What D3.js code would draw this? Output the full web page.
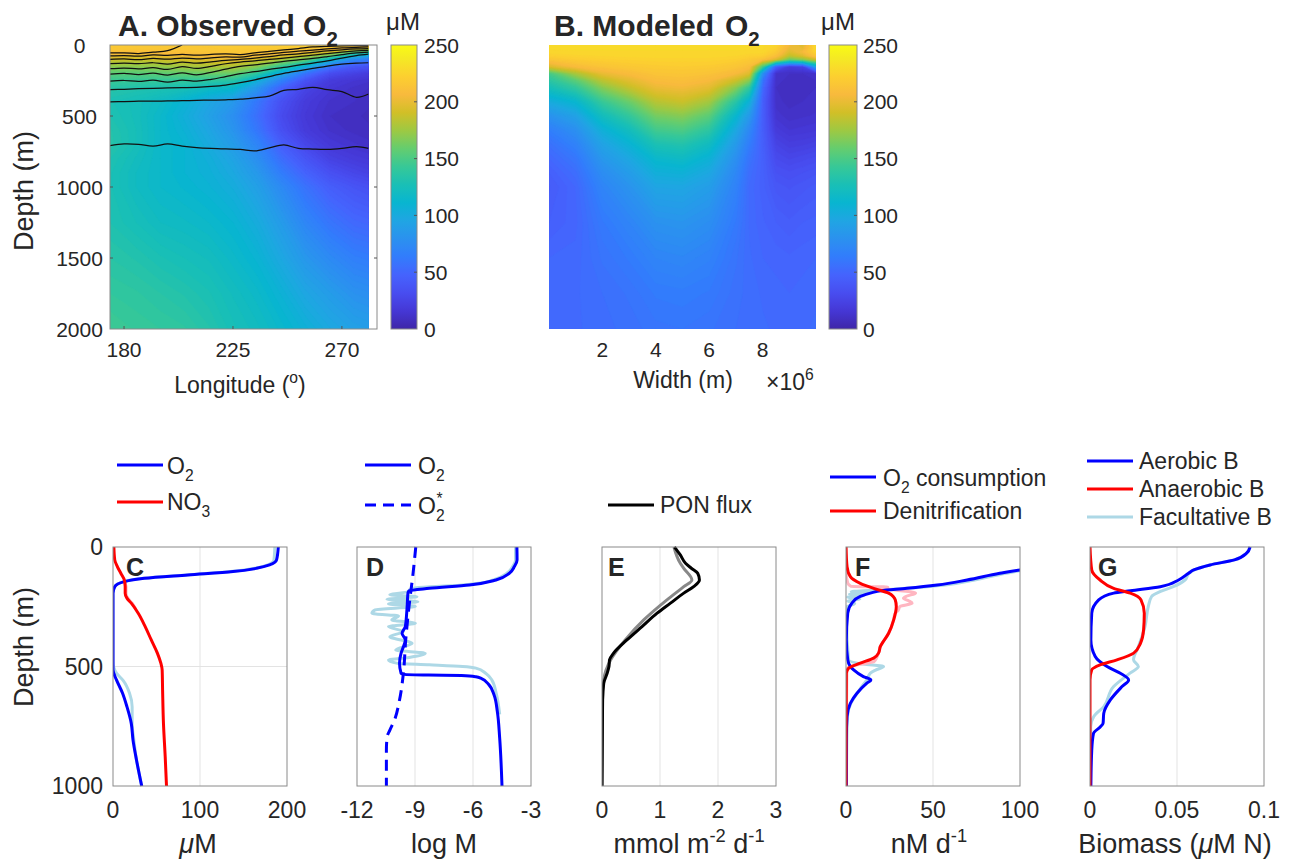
<!DOCTYPE html>
<html><head><meta charset="utf-8">
<script src="https://cdn.jsdelivr.net/npm/d3@7"></script>
<style>
body{margin:0;background:#fff}
svg{display:block}
text{font-family:"Liberation Sans",Arial,Helvetica,sans-serif;fill:#262626}
</style>
</head><body>
<svg id="fig" width="1291" height="863"></svg>
<script>
// ---------------- DATA ----------------
// Panel A: observed O2 (µM). Each row = one longitude, values at obsDepth
const obsLon = [174.2, 185, 195, 205, 215, 225, 235, 245, 255, 265, 275, 281];
const obsDepth = [0, 25, 50, 75, 100, 150, 200, 250, 300, 400, 500, 600, 700, 800, 900, 1000, 1250, 1500, 1750, 2000];
const obsO2 = [
  [218,217,210,200,190,170,155,143,135,128,130,133,134,130,128,128,130,135,140,145],
  [218,216,208,198,188,170,154,142,132,124,124,125,125,122,120,120,125,132,138,142],
  [218,216,210,200,190,172,156,141,130,118,115,115,115,115,115,115,120,128,135,140],
  [218,216,212,203,193,176,158,140,127,108,104,107,110,110,110,112,118,125,132,138],
  [218,217,214,207,197,179,160,138,120,96,92,96,100,104,106,108,115,122,128,133],
  [219,218,215,210,200,180,160,135,115,85,78,82,88,94,98,102,110,116,122,126],
  [220,218,214,205,192,168,138,105,84,60,55,60,70,78,85,91,101,109,116,121],
  [221,218,210,196,178,140,98,68,48,34,30,34,44,54,64,74,87,97,107,114],
  [222,216,202,182,160,105,58,36,26,19,17,19,27,37,47,57,71,84,96,106],
  [222,212,190,155,115,60,32,20,16,12,10,12,17,24,34,44,59,74,88,98],
  [220,196,150,108,75,40,24,15,12,10,8,9,13,19,27,37,51,66,80,92],
  [215,186,135,95,65,36,20,13,10,8,7,8,11,17,24,34,49,64,78,90]
];
// Panel B: modeled O2 (µM). Each row = one width position (×10^6 m)
const modWidth = [0, 1, 2, 3, 4, 5, 6, 7, 7.5, 8, 8.5, 9, 9.5, 10];
const modDepth = obsDepth;
const modO2 = [
  [228,228,226,222,215,195,148,136,125,100,80,65,56,50,45,42,45,50,52,52],
  [228,228,227,224,220,208,178,155,140,112,92,78,68,60,54,50,49,51,52,52],
  [228,228,227,225,222,214,200,183,168,142,122,105,93,84,76,70,62,58,55,54],
  [228,228,227,226,223,217,208,197,186,160,140,122,108,97,88,81,70,63,58,56],
  [228,228,227,226,224,219,214,208,201,182,163,146,128,114,104,95,80,70,63,59],
  [228,228,227,226,224,220,215,210,204,188,168,150,132,118,106,96,82,72,64,60],
  [228,228,227,226,224,219,213,206,198,176,155,137,120,107,97,89,77,68,62,58],
  [228,228,227,225,222,215,206,188,168,135,112,97,86,78,72,68,62,58,56,55],
  [228,228,226,223,218,210,196,168,140,105,85,72,64,58,54,52,52,53,54,54],
  [228,228,226,222,212,150,80,60,52,45,44,44,45,46,46,46,48,50,52,53],
  [225,222,218,210,195,45,12,11,10,11,14,19,25,30,35,39,45,49,51,52],
  [205,200,195,185,160,20,10,9,9,9,11,15,21,27,33,37,43,48,50,52],
  [195,200,205,195,170,25,10,9,9,10,12,16,22,29,35,39,45,49,51,52],
  [228,228,225,215,190,95,12,10,10,11,13,17,24,31,37,41,46,50,52,53]
];
// Panel A: black contour lines (depth in m at contourLon; null = line ends)
const contourLon = [174.2, 180, 186, 192, 198, 204, 210, 216, 222, 228, 234, 240, 246, 252, 258, 264, 270, 276, 281];
const contour1 = [56,55,60,50,40,0,null,null,null,null,null,null,null,null,null,null,null,null,null];
const contour2 = [77,75,78,70,73,66,72,66,62,68,55,45,35,25,14,9,6,5,5];
const contour3 = [101,98,103,95,100,92,98,90,84,85,72,62,52,44,36,27,20,16,14];
const contour4 = [132,128,132,125,135,120,128,118,108,101,92,82,70,62,52,42,34,28,25];
const contour5 = [167,162,168,160,172,152,165,150,132,120,112,102,92,82,72,60,50,42,38];
const contour6 = [206,200,208,198,212,196,210,192,170,150,140,128,115,105,95,82,68,56,50];
const contour7 = [254,250,256,248,262,248,255,242,222,202,188,172,158,142,128,112,92,75,65];
const contour8 = [315,312,308,305,302,300,298,292,282,265,245,222,200,182,165,148,135,128,125];
const contour9 = [401,398,396,395,394,392,390,388,386,382,372,360,320,312,298,315,328,368,345];
const contour10 = [709,697,700,712,697,712,722,728,732,735,746,725,704,728,733,735,728,716,728];

// Profiles: [depth (m), value]
const cO2 = [[0,190],[54,188],[75,180],[89,165],[103,138],[117,86],[131,36],[145,13],[166,2],[193,0],[514,0],[556,4],[612,11],[668,16],[738,21],[808,23],[891,27],[1000,33]];
const cO2faint = [[0,186],[54,185],[75,178],[89,163],[103,135],[117,84],[131,35],[145,12],[166,2],[193,0],[480,0],[505,1],[528,4],[560,12],[612,19],[668,22],[738,22],[808,24],[891,27],[1000,33]];
const cNO3 = [[0,1],[54,2],[82,5],[110,9],[138,13],[166,14],[193,14],[214,16],[235,21],[277,29],[333,37],[389,44],[444,51],[486,55],[514,56.5],[598,57],[738,58],[877,60],[1000,61.5]];
const cNO3faint = [[140,12],[166,15],[193,15],[214,17],[235,22],[260,26]];

const dO2 = [[0,-3.73],[54,-3.72],[82,-3.86],[110,-4.12],[138,-4.81],[159,-6.19],[173,-8.26],[183,-9.3],[190,-9.36],[208,-9.38],[240,-9.4],[277,-9.43],[333,-9.5],[361,-9.67],[389,-9.5],[417,-9.6],[444,-9.72],[486,-9.8],[528,-9.72],[533,-9.55],[536,-8.3],[538,-6.6],[543,-5.85],[549,-5.6],[577,-5.17],[619,-4.91],[689,-4.74],[800,-4.62],[1000,-4.5]];
const dO2faint = [[0,-3.8],[54,-3.8],[82,-3.95],[110,-4.25],[138,-4.95],[152,-5.7],[160,-6.7],[166,-8.2],[172,-9.1],[180,-9.3],[187,-9.35],[200,-10.3],[208,-8.9],[219,-10.45],[229,-8.85],[238,-10.37],[249,-8.98],[263,-11.06],[277,-11.23],[289,-9.85],[305,-10.2],[319,-8.98],[333,-10.37],[354,-9.6],[375,-10.3],[403,-9.15],[431,-10.0],[445,-8.47],[462,-9.3],[473,-10.37],[487,-9.9],[493,-8.26],[500,-6.54],[507,-5.85],[529,-5.33],[556,-5.03],[612,-4.8],[668,-4.67],[700,-4.62]];
const dO2star = [[0,-8.96],[110,-9.1],[249,-9.31],[389,-9.48],[528,-9.6],[640,-9.8],[724,-10.06],[766,-10.3],[794,-10.44],[850,-10.48],[1000,-10.48]];

const ePON = [[0,1.25],[33,1.35],[68,1.44],[89,1.54],[110,1.65],[138,1.68],[166,1.58],[193,1.41],[235,1.18],[277,0.95],[333,0.69],[389,0.43],[444,0.2],[472,0.13],[500,0.12],[528,0.09],[570,0.03],[640,0.01],[1000,0]];
const ePONfaint = [[0,1.24],[68,1.35],[89,1.41],[138,1.55],[166,1.41],[221,1.12],[305,0.72],[389,0.4],[472,0.15],[556,0.03],[640,0.01],[1000,0]];

const fO2cons = [[0,260],[40,190],[70,140],[96,100],[110,88.4],[138,69.6],[159,52.4],[173,35],[183,20],[191,15],[207,8.2],[235,3.4],[277,1],[389,0.2],[472,1],[500,2.5],[514,4.4],[542,10],[556,14.3],[570,12],[612,6.3],[654,2.5],[710,0.6],[800,0.2],[1000,0.2]];
const fO2consFaint = [[0,260],[40,190],[70,142],[96,103],[110,92],[138,74],[159,57],[170,40],[178,25],[183,10],[187,3],[193,13],[198,2],[204,10],[210,1],[218,8],[226,1],[236,5],[250,0.5],[300,0.3],[472,1.5],[490,10],[500,21.6],[515,17],[528,14],[556,12],[584,9],[612,6.5],[654,2.8],[710,0.8],[1000,0.2]];
const fDenit = [[0,0],[82,0.6],[124,2.5],[152,8.2],[173,15.9],[193,24.5],[221,28.3],[249,28.9],[305,27.4],[361,24.5],[417,19.7],[444,18.7],[465,15.9],[486,8.2],[507,1.5],[528,0.2],[1000,0]];
const fDenitFaint = [[0,0],[100,0],[150,1],[160,2],[165,3],[166,10],[167,24],[172,20],[180,28],[193,40],[205,35],[214,33],[225,36],[235,38],[249,31],[265,30],[280,28],[305,27.4],[361,24.5],[417,19.7],[444,18.7],[465,17.5],[480,16],[486,12],[495,5],[510,0.5],[1000,0]];

const gAerobic = [[0,0.092],[26,0.090],[54,0.083],[75,0.069],[96,0.0596],[110,0.0566],[138,0.0509],[166,0.0404],[183,0.0232],[193,0.0136],[221,0.005],[277,0.001],[389,0.0005],[458,0.003],[500,0.0098],[528,0.0174],[556,0.0222],[584,0.0184],[640,0.0117],[696,0.0079],[738,0.0075],[752,0.006],[780,0.002],[850,0.001],[1000,0.0005]];
const gAnaerobic = [[0,0],[96,0.001],[138,0.0058],[173,0.0136],[193,0.0232],[221,0.0293],[277,0.0312],[347,0.0308],[403,0.029],[444,0.0251],[472,0.0155],[493,0.0058],[514,0.001],[556,0],[1000,0]];
const gFacultative = [[0,0.092],[26,0.090],[54,0.083],[75,0.069],[96,0.06],[110,0.057],[138,0.0546],[166,0.0479],[187,0.0402],[207,0.0354],[249,0.0335],[333,0.0316],[417,0.0278],[472,0.025],[500,0.0278],[528,0.023],[584,0.0136],[668,0.0079],[710,0.0021],[752,0.0004],[1000,0.0002]];

// Tick labels
const lonTicks = [180, 225, 270];
const depthTicksTop = [0, 500, 1000, 1500, 2000];
const widthTicks = [2, 4, 6, 8];
const cbarTicks = [0, 50, 100, 150, 200, 250];
const depthTicksBottom = [0, 500, 1000];
const cTicks = [0, 100, 200];
const dTicks = [-12, -9, -6, -3];
const eTicks = [0, 1, 2, 3];
const fTicks = [0, 50, 100];
const gTicks = [0, 0.05, 0.1];

// Parula colormap anchors (MATLAB)
const parulaAnchors = [
  [0.2422,0.1504,0.6603],[0.2706,0.2147,0.8364],[0.2813,0.3006,0.9414],[0.2699,0.3892,0.9906],
  [0.1963,0.4847,0.9892],[0.1687,0.5703,0.9359],[0.1248,0.6459,0.8883],[0.0297,0.7082,0.8163],
  [0.0964,0.7500,0.7120],[0.2161,0.7843,0.5923],[0.3909,0.8029,0.4354],[0.6174,0.7876,0.2612],
  [0.8203,0.7498,0.1535],[0.9728,0.7298,0.2394],[0.9892,0.8136,0.1885],[0.9597,0.9135,0.1423],
  [0.9769,0.9839,0.0805]
];
const parulaIdx = [0,4,8,12,16,20,24,28,32,36,40,44,48,52,56,60,63];

// ---------------- DRAWING ----------------
const svg = d3.select('#fig');
const defs = svg.append('defs');
const rgb = c => d3.rgb(c[0]*255, c[1]*255, c[2]*255).toString();
const parula = d3.scaleLinear()
  .domain(parulaIdx.map(i => i / 63 * 250))
  .range(parulaAnchors.map(rgb))
  .interpolate(d3.interpolateRgb).clamp(true);

const BOX = '#8a8a8a';
const GRID = '#e3e3e3';

function rich(parent, x, y, parts, size, anchor, weight) {
  const t = parent.append('text').attr('x', x).attr('y', y)
    .attr('font-size', size).attr('text-anchor', anchor || 'start');
  if (weight) t.attr('font-weight', weight);
  let shift = 0;
  parts.forEach(p => {
    const s = p.sub ? size * 0.32 : p.sup ? -size * 0.42 : 0;
    const ts = t.append('tspan').text(p.t).attr('dy', s - shift);
    if (p.dx) ts.attr('dx', p.dx);
    if (p.sub || p.sup) ts.attr('font-size', size * 0.68);
    if (p.it) ts.attr('font-style', 'italic');
    shift = s;
  });
  return t;
}

let clipId = 0;
function clipRect(x, y, w, h) {
  const id = 'clip' + (clipId++);
  defs.append('clipPath').attr('id', id).append('rect')
    .attr('x', x).attr('y', y).attr('width', w).attr('height', h);
  return 'url(#' + id + ')';
}

function drawField(g, xsNodes, ysNodes, grid, xS, yS) {
  const n = xsNodes.length, m = ysNodes.length;
  const vals = new Array(n * m);
  for (let i = 0; i < n; i++) for (let j = 0; j < m; j++) vals[i + j * n] = grid[i][j];
  const step = 2.5;
  const contours = d3.contours().size([n, m]).thresholds(d3.range(-5, 260, step))(vals);
  const ix = d3.scaleLinear().domain(xsNodes.map((_, i) => i + 0.5)).range(xsNodes).clamp(true);
  const iy = d3.scaleLinear().domain(ysNodes.map((_, j) => j + 0.5)).range(ysNodes).clamp(true);
  const proj = d3.geoTransform({ point(x, y) { this.stream.point(xS(ix(x)), yS(iy(y))); } });
  const path = d3.geoPath(proj);
  g.selectAll('path.band').data(contours).join('path').attr('class', 'band')
    .attr('d', path)
    .attr('fill', d => parula(d.value + step / 2))
    .attr('stroke', d => parula(d.value + step / 2))
    .attr('stroke-width', 0.6);
}

function colorbar(x0, x1, y0, y1, labelX) {
  const gid = 'grad' + (clipId++);
  const grad = defs.append('linearGradient').attr('id', gid)
    .attr('x1', 0).attr('y1', 1).attr('x2', 0).attr('y2', 0);
  d3.range(0, 64).forEach(k => {
    const v = k / 63 * 250;
    grad.append('stop').attr('offset', k / 63).attr('stop-color', parula(v));
  });
  const cS = d3.scaleLinear([0, 250], [y1, y0]);
  svg.append('rect').attr('x', x0).attr('y', y0).attr('width', x1 - x0).attr('height', y1 - y0)
    .attr('fill', 'url(#' + gid + ')').attr('stroke', BOX).attr('stroke-width', 1);
  cbarTicks.forEach(v => {
    if (v > 0 && v < 250) svg.append('line').attr('x1', x1 - 3).attr('x2', x1).attr('y1', cS(v)).attr('y2', cS(v)).attr('stroke', '#555');
    svg.append('text').attr('x', labelX).attr('y', cS(v)).attr('dy', '0.36em').attr('font-size', 21).text(v);
  });
}

// ---------- Panel A ----------
const A = { x0: 110, x1: 377, y0: 45, y1: 329 };
const xA = d3.scaleLinear([174.2, 284.5], [A.x0, A.x1]);
const yA = d3.scaleLinear([0, 2000], [A.y0, A.y1]);
const gA = svg.append('g').attr('clip-path', clipRect(xA(174.2), A.y0, xA(281) - xA(174.2), A.y1 - A.y0));
drawField(gA, obsLon, obsDepth, obsO2, xA, yA);
const contourLine = d3.line().defined(d => d != null)
  .x((d, i) => xA(contourLon[i])).y(d => yA(d)).curve(d3.curveCatmullRom);
[contour1, contour2, contour3, contour4, contour5, contour6, contour7, contour8, contour9, contour10].forEach(c => {
  gA.append('path').attr('d', contourLine(c)).attr('fill', 'none').attr('stroke', '#111').attr('stroke-width', 1.25);
});
svg.append('rect').attr('x', A.x0).attr('y', A.y0).attr('width', A.x1 - A.x0).attr('height', A.y1 - A.y0)
  .attr('fill', 'none').attr('stroke', BOX).attr('stroke-width', 1);
depthTicksTop.forEach(v => {
  if (v > 0 && v < 2000) {
    svg.append('line').attr('x1', A.x0).attr('x2', A.x0 + 3).attr('y1', yA(v)).attr('y2', yA(v)).attr('stroke', '#555');
    svg.append('line').attr('x1', A.x1 - 3).attr('x2', A.x1).attr('y1', yA(v)).attr('y2', yA(v)).attr('stroke', '#555');
  }
  svg.append('text').attr('x', 79.5).attr('y', yA(v)).attr('dy', '0.36em').attr('text-anchor', 'middle').attr('font-size', 21).text(v);
});
lonTicks.forEach(v => {
  svg.append('line').attr('x1', xA(v)).attr('x2', xA(v)).attr('y1', A.y1 - 3).attr('y2', A.y1).attr('stroke', '#555');
  svg.append('text').attr('x', xA(v)).attr('y', 357).attr('text-anchor', 'middle').attr('font-size', 21).text(v);
});
rich(svg, 240, 393, [{ t: 'Longitude (' }, { t: 'o', sup: true }, { t: ')' }], 23, 'middle');
svg.append('text').attr('transform', 'translate(33,191) rotate(-90)').attr('text-anchor', 'middle')
  .attr('font-size', 27).text('Depth (m)');
rich(svg, 118, 36, [{ t: 'A. Observed O' }, { t: '2', sub: true }], 30, 'start', 'bold');
svg.append('text').attr('x', 403).attr('y', 30).attr('text-anchor', 'middle').attr('font-size', 24).text('μM');
colorbar(391, 417, 45, 329, 424);

// ---------- Panel B ----------
const B = { x0: 549, x1: 816, y0: 45, y1: 329 };
const xB = d3.scaleLinear([0, 10], [B.x0, B.x1]);
const yB = d3.scaleLinear([0, 2000], [B.y0, B.y1]);
const gB = svg.append('g').attr('clip-path', clipRect(B.x0, B.y0, B.x1 - B.x0, B.y1 - B.y0));
drawField(gB, modWidth, modDepth, modO2, xB, yB);
widthTicks.forEach(v => {
  svg.append('text').attr('x', xB(v)).attr('y', 357).attr('text-anchor', 'middle').attr('font-size', 21).text(v);
});
svg.append('text').attr('x', 683).attr('y', 388).attr('text-anchor', 'middle').attr('font-size', 23).text('Width (m)');
rich(svg, 766, 390, [{ t: '×10' }, { t: '6', sup: true }], 23, 'start');
rich(svg, 554, 36, [{ t: 'B. Modeled' }, { t: 'O', dx: 11 }, { t: '2', sub: true }], 30, 'start', 'bold');
svg.append('text').attr('x', 838).attr('y', 30).attr('text-anchor', 'middle').attr('font-size', 24).text('μM');
colorbar(829, 857, 45, 329, 863);

// ---------- Bottom profile panels ----------
const PY0 = 547, PY1 = 786;
const yP = d3.scaleLinear([0, 1000], [PY0, PY1]);
function panel(x0, domain, ticks, tickFmt, gridX, letter, letterX) {
  const x1 = x0 + 174;
  const xS = d3.scaleLinear(domain, [x0, x1]);
  const g = svg.append('g');
  gridX.forEach(v => g.append('line').attr('x1', xS(v)).attr('x2', xS(v)).attr('y1', PY0).attr('y2', PY1).attr('stroke', GRID).attr('stroke-width', 1));
  const gl = svg.append('g').attr('clip-path', clipRect(x0, PY0 - 2, 174, PY1 - PY0 + 4));
  svg.append('rect').attr('x', x0).attr('y', PY0).attr('width', 174).attr('height', PY1 - PY0)
    .attr('fill', 'none').attr('stroke', BOX).attr('stroke-width', 1);
  ticks.forEach(v => svg.append('text').attr('x', xS(v)).attr('y', 818).attr('text-anchor', 'middle').attr('font-size', 23).text(tickFmt(v)));
  const lt = svg.append('text').attr('x', letterX).attr('y', 576).attr('font-size', 25).attr('font-weight', 'bold').attr('fill', '#000').text(letter);
  return { xS, gl, g, lt };
}
function profile(p, data, color, width, dash) {
  const line = d3.line().x(d => p.xS(d[1])).y(d => yP(d[0])).curve(d3.curveMonotoneY);
  const path = p.gl.append('path').attr('d', line(data)).attr('fill', 'none')
    .attr('stroke', color).attr('stroke-width', width).attr('stroke-linejoin', 'round');
  if (dash) path.attr('stroke-dasharray', dash);
  return path;
}
function legendLine(x, y, color, dash) {
  const l = svg.append('line').attr('x1', x).attr('x2', x + 46).attr('y1', y).attr('y2', y)
    .attr('stroke', color).attr('stroke-width', 3);
  if (dash) l.attr('stroke-dasharray', dash);
}

const P = [113, 357, 602, 846, 1090];
// C
const pC = panel(P[0], [0, 200], cTicks, d => d, [100], 'C', 126);
pC.g.append('line').attr('x1', P[0]).attr('x2', P[0] + 174).attr('y1', yP(500)).attr('y2', yP(500)).attr('stroke', GRID);
profile(pC, cO2faint, '#add8e6', 3);
profile(pC, cNO3faint, '#ffb6c1', 3);
profile(pC, cO2, '#0000ff', 3);
profile(pC, cNO3, '#ff0000', 3);
depthTicksBottom.forEach(v => svg.append('text').attr('x', 103).attr('y', yP(v)).attr('dy', '0.36em').attr('text-anchor', 'end').attr('font-size', 23).text(v));
svg.append('text').attr('transform', 'translate(33,647) rotate(-90)').attr('text-anchor', 'middle').attr('font-size', 27).text('Depth (m)');
rich(svg, 198, 853, [{ t: 'μ', it: true }, { t: 'M' }], 27, 'middle');
legendLine(117, 465, '#0000ff');
rich(svg, 167, 474, [{ t: 'O' }, { t: '2', sub: true }], 23);
legendLine(117, 502, '#ff0000');
rich(svg, 167, 510, [{ t: 'NO' }, { t: '3', sub: true }], 23);

// D
const pD = panel(P[1], [-12, -3], dTicks, d => String(d), [-9, -6], 'D', 366);
profile(pD, dO2faint, '#add8e6', 3);
profile(pD, dO2, '#0000ff', 3);
profile(pD, dO2star, '#0000ff', 3, '11,7');
rich(svg, 444, 853, [{ t: 'log M' }], 27, 'middle');
legendLine(365, 465, '#0000ff');
rich(svg, 418, 474, [{ t: 'O' }, { t: '2', sub: true }], 23);
legendLine(365, 505, '#0000ff', '11,7');
rich(svg, 418, 514, [{ t: 'O' }, { t: '2', sub: true }, { t: '*', sup: true, dx: -8 }], 23);

// E
const pE = panel(P[2], [0, 3], eTicks, d => d, [1, 2], 'E', 608);
profile(pE, ePONfaint, '#888888', 3);
profile(pE, ePON, '#000000', 3);
rich(svg, 689, 853, [{ t: 'mmol m' }, { t: '-2', sup: true }, { t: ' d' }, { t: '-1', sup: true }], 27, 'middle');
legendLine(608, 505, '#000000');
svg.append('text').attr('x', 660).attr('y', 513).attr('font-size', 23).text('PON flux');

// F
const pF = panel(P[3], [0, 100], fTicks, d => d, [50], 'F', 855);
profile(pF, fO2consFaint, '#add8e6', 3);
profile(pF, fDenitFaint, '#ffb6c1', 3);
profile(pF, fO2cons, '#0000ff', 3);
profile(pF, fDenit, '#ff0000', 3);
rich(svg, 929, 853, [{ t: 'nM d' }, { t: '-1', sup: true }], 27, 'middle');
legendLine(830, 477, '#0000ff');
rich(svg, 883, 486, [{ t: 'O' }, { t: '2', sub: true }, { t: ' consumption' }], 23);
legendLine(830, 511, '#ff0000');
svg.append('text').attr('x', 883).attr('y', 519).attr('font-size', 23).text('Denitrification');

// G
const pG = panel(P[4], [0, 0.1], gTicks, d => d, [0.05], 'G', 1098);
profile(pG, gFacultative, '#add8e6', 3);
profile(pG, gAerobic, '#0000ff', 3);
profile(pG, gAnaerobic, '#ff0000', 3);
rich(svg, 1175, 853, [{ t: 'Biomass (' }, { t: 'μ', it: true }, { t: 'M N)' }], 27, 'middle');
legendLine(1087, 461, '#0000ff');
svg.append('text').attr('x', 1139).attr('y', 469).attr('font-size', 23).text('Aerobic B');
legendLine(1087, 489, '#ff0000');
svg.append('text').attr('x', 1139).attr('y', 497).attr('font-size', 23).text('Anaerobic B');
legendLine(1087, 517, '#add8e6');
svg.append('text').attr('x', 1139).attr('y', 525).attr('font-size', 23).text('Facultative B');

[pC, pD, pE, pF, pG].forEach(p => p.lt.raise());
</script>
</body></html>
